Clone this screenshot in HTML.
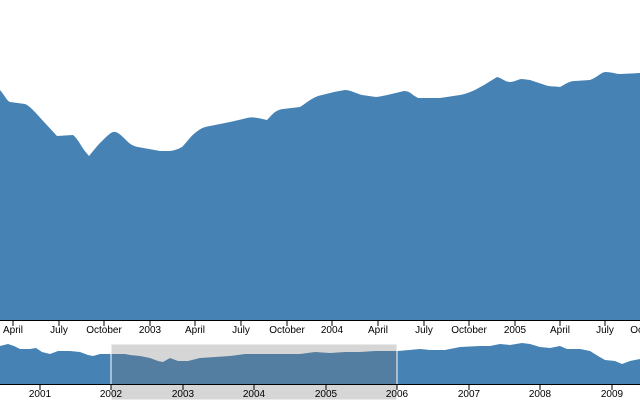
<!DOCTYPE html>
<html><head><style>
html,body{margin:0;padding:0;background:#fff;}
svg{display:block;font-family:"Liberation Sans",sans-serif;font-size:10px;}
</style></head><body>
<svg width="640" height="400" viewBox="0 0 640 400">
<path fill="steelblue" d="M0,90 C5,96 7,101 10,102 L25,104 C30,106 35,112 45,123 L57,136 L73,135 C77,138 80,144 84,150 L89,156 C94,150 97,146 100,143 C106,137 110,133 113,132 C117,131 121,135 127,141 C130,144 133,146 138,147 L160,151 L170,151 C177,150 180,148 182,147 C187,142 190,137 195,133 C200,129 203,127 210,126 L230,122 L243,119 C250,117 252,117 258,118 L267,120 C272,115 275,110 283,109 L300,107 C305,104 310,99 318,96 L334,92 L345,90 C350,90 355,93 362,95 L376,97 C385,96 395,93 404,91 C408,91 411,93 413,95 L418,98 L440,98 L460,95 C470,93 475,90 484,85 L497,77 C502,78 505,82 510,82 C515,82 518,79 522,79 L530,80 L545,85 C550,87 554,86 560,87 C566,84 569,81 575,81 L590,80 C598,77 600,73 605,72 C612,72 616,74 620,74 L640,73 L640,320 L0,320 Z"/>
<line x1="0" y1="320.5" x2="640" y2="320.5" stroke="#000"/>
<g stroke="#000">
<line x1="13" y1="320" x2="13" y2="326"/><line x1="59" y1="320" x2="59" y2="326"/><line x1="104" y1="320" x2="104" y2="326"/><line x1="150" y1="320" x2="150" y2="326"/><line x1="195" y1="320" x2="195" y2="326"/><line x1="241" y1="320" x2="241" y2="326"/><line x1="287" y1="320" x2="287" y2="326"/><line x1="332" y1="320" x2="332" y2="326"/><line x1="378" y1="320" x2="378" y2="326"/><line x1="424" y1="320" x2="424" y2="326"/><line x1="469" y1="320" x2="469" y2="326"/><line x1="515" y1="320" x2="515" y2="326"/><line x1="560" y1="320" x2="560" y2="326"/><line x1="605" y1="320" x2="605" y2="326"/>
</g>
<g text-anchor="middle" fill="#000">
<text x="13" y="333">April</text><text x="59" y="333">July</text><text x="104" y="333">October</text><text x="150" y="333">2003</text><text x="195" y="333">April</text><text x="241" y="333">July</text><text x="287" y="333">October</text><text x="332" y="333">2004</text><text x="378" y="333">April</text><text x="424" y="333">July</text><text x="469" y="333">October</text><text x="515" y="333">2005</text><text x="560" y="333">April</text><text x="605" y="333">July</text><text x="648" y="333">October</text>
</g>
<path fill="steelblue" d="M0,346 L8,344 L14,346 L20,349 L30,349 L36,348 L42,352 L50,354 L58,351 L70,351 L80,352 L88,355 L93,356 L100,354 L115,354 L125,354 L130,355 L140,356 L150,358 L158,361 L163,362 L170,358 L178,361 L188,361 L200,358 L215,357 L230,356 L245,354 L260,354 L280,354 L300,354 L315,352 L330,353 L345,352 L360,352 L375,351 L398,351 L420,349 L430,350 L445,350 L460,347 L480,346 L490,346 L500,344 L510,345 L522,343 L530,344 L540,347 L550,348 L560,346 L567,349 L580,349 L590,351 L598,356 L605,360 L615,361 L622,364 L630,361 L640,359 L640,384 L0,384 Z"/>
<rect x="111" y="344" width="286" height="56" fill="#777" fill-opacity="0.3" stroke="#fff"/>
<line x1="0" y1="384.5" x2="640" y2="384.5" stroke="#000"/>
<g stroke="#000">
<line x1="40" y1="384" x2="40" y2="390"/><line x1="111" y1="384" x2="111" y2="390"/><line x1="183" y1="384" x2="183" y2="390"/><line x1="254" y1="384" x2="254" y2="390"/><line x1="326" y1="384" x2="326" y2="390"/><line x1="397" y1="384" x2="397" y2="390"/><line x1="469" y1="384" x2="469" y2="390"/><line x1="540" y1="384" x2="540" y2="390"/><line x1="612" y1="384" x2="612" y2="390"/>
</g>
<g text-anchor="middle" fill="#000">
<text x="40" y="397">2001</text><text x="111" y="397">2002</text><text x="183" y="397">2003</text><text x="254" y="397">2004</text><text x="326" y="397">2005</text><text x="397" y="397">2006</text><text x="469" y="397">2007</text><text x="540" y="397">2008</text><text x="612" y="397">2009</text>
</g>
</svg>
</body></html>
